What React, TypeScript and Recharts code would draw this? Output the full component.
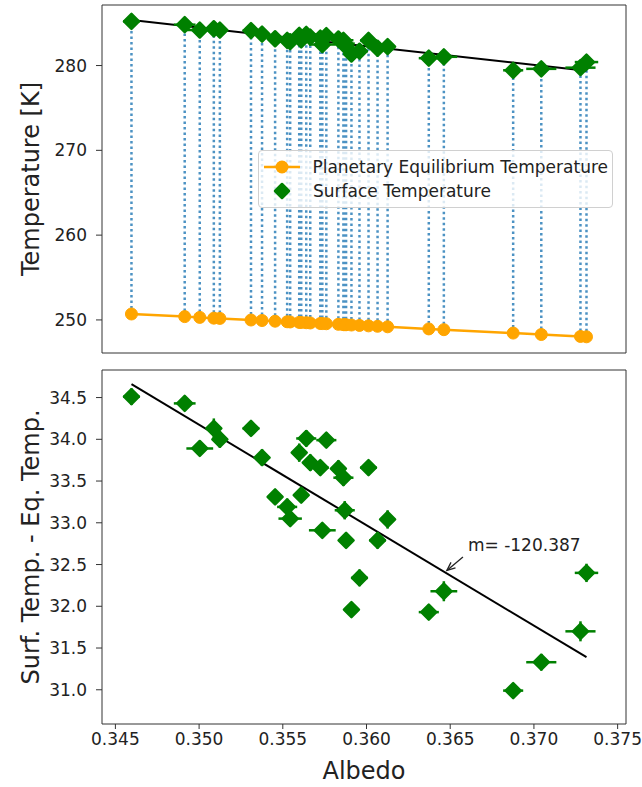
import React from "react";
import {
  ComposedChart,
  Line,
  Scatter,
  XAxis,
  YAxis,
  ErrorBar,
  ReferenceArea,
  ReferenceLine,
  Legend,
} from "recharts";

// planet albedo and temperatures (K)
const albedo = [
  0.34596, 0.34914, 0.35004, 0.35088, 0.35124, 0.3531, 0.35376, 0.35454, 0.35526, 0.35544, 0.35598,
  0.3561, 0.3564, 0.35664, 0.35724, 0.35736, 0.3576, 0.35832, 0.35862, 0.3587, 0.35878, 0.3591,
  0.35958, 0.36012, 0.36066, 0.36126, 0.36372, 0.36462, 0.36876, 0.37044, 0.37278, 0.37314,
];
const eqTemp = [
  250.7, 250.39, 250.3, 250.21, 250.18, 249.99, 249.93, 249.85, 249.78, 249.76, 249.71, 249.7,
  249.67, 249.64, 249.58, 249.57, 249.55, 249.48, 249.44, 249.44, 249.43, 249.4, 249.35, 249.3,
  249.25, 249.19, 248.94, 248.85, 248.45, 248.28, 248.05, 248.01,
];
const surfTemp = [
  285.21, 284.82, 284.19, 284.34, 284.18, 284.12, 283.71, 283.16, 282.97, 282.81, 283.55, 283.03,
  283.68, 283.36, 283.24, 282.48, 283.54, 283.13, 282.98, 282.59, 282.22, 281.36, 281.69, 282.96,
  282.04, 282.23, 280.87, 281.03, 279.44, 279.61, 279.75, 280.41,
];
const tempDiff = [
  34.51, 34.43, 33.89, 34.13, 34.0, 34.13, 33.78, 33.31, 33.19, 33.05, 33.84, 33.33, 34.01, 33.72,
  33.66, 32.91, 33.99, 33.65, 33.54, 33.15, 32.79, 31.96, 32.34, 33.66, 32.79, 33.04, 31.93, 32.18,
  30.99, 31.33, 31.7, 32.4,
];
const albedoErr = [
  0.0005, 0.00065, 0.0008, 0.0004, 0.0004, 0.0005, 0.0004, 0.0004, 0.0006, 0.0007, 0.0004, 0.0004,
  0.0006, 0.0004, 0.0005, 0.0008, 0.0006, 0.0004, 0.0006, 0.0006, 0.0004, 0.0004, 0.0005, 0.0005,
  0.0005, 0.0003, 0.0006, 0.0008, 0.0006, 0.0009, 0.0009, 0.0007,
];
const tempErr = [
  0.1, 0.08, 0.09, 0.12, 0.1, 0.09, 0.1, 0.08, 0.1, 0.09, 0.11, 0.09, 0.1, 0.1, 0.09, 0.08, 0.09,
  0.1, 0.1, 0.11, 0.09, 0.08, 0.1, 0.09, 0.1, 0.11, 0.09, 0.12, 0.08, 0.1, 0.12, 0.11,
];

// linear fits
const fitAlbedo = [0.34596, 0.37314];
const surfFit = [285.36, 279.4];
const diffFit = [34.66, 31.39];
const slopeText = "m= -120.387";
const slopeArrowAlbedo = [0.36576, 0.3648];
const slopeArrowDiff = [32.59, 32.43];

const albedoTicks = [0.345, 0.35, 0.355, 0.36, 0.365, 0.37, 0.375];
const tempTicks = [250, 260, 270, 280];
const diffTicks = [31.0, 31.5, 32.0, 32.5, 33.0, 33.5, 34.0, 34.5];

const FONT = "DejaVu Sans, sans-serif";
const TXT = "#222";
const AX = "#333";
const GREEN = "#008000";
const ORANGE = "#ffa500";
const BLUE = "#1f77b4";

const albedoDomain: [number, number] = [0.3442, 0.3755];
const tempDomain: [number, number] = [246.1, 287.14];
const diffDomain: [number, number] = [30.59, 34.83];

const eqPoints = albedo.map((x, i) => ({ x, y: eqTemp[i] }));
const surfPoints = albedo.map((x, i) => ({ x, y: surfTemp[i], xe: albedoErr[i], ye: tempErr[i] }));
const diffPoints = albedo.map((x, i) => ({ x, y: tempDiff[i], xe: albedoErr[i], ye: tempErr[i] }));
// vertical dotted links eq -> surface, broken by nulls
const linkPoints = albedo.flatMap((x, i) => [
  { x, y: eqTemp[i] },
  { x, y: surfTemp[i] },
  { x, y: null },
]);
const surfFitPoints = fitAlbedo.map((x, i) => ({ x, y: surfFit[i] }));
const diffFitPoints = fitAlbedo.map((x, i) => ({ x, y: diffFit[i] }));

const tickStyle = { fontSize: 17, fill: TXT, fontFamily: FONT };
const labelStyle = { fontSize: 24, fill: TXT, fontFamily: FONT, textAnchor: "middle" as const };

function Diamond({ cx, cy, s = 7.5 }: { cx: number; cy: number; s?: number }) {
  return (
    <path
      d={`M${cx},${cy - s} L${cx + s},${cy} L${cx},${cy + s} L${cx - s},${cy} Z`}
      fill={GREEN}
      stroke={GREEN}
      strokeWidth={2.5}
      strokeLinejoin="round"
    />
  );
}

const renderLegend = () => (
  <div
    style={{
      border: "1px solid #d0d0d0",
      borderRadius: 4,
      background: "rgba(255,255,255,0.8)",
      padding: "4px 4px 4px 3px",
      fontFamily: FONT,
      fontSize: 17,
      color: TXT,
      lineHeight: "24px",
      whiteSpace: "nowrap",
    }}
  >
    <div style={{ display: "flex", alignItems: "center" }}>
      <svg width={40} height={24} style={{ marginRight: 11 }}>
        <line x1={2} y1={12} x2={38} y2={12} stroke={ORANGE} strokeWidth={2.5} />
        <circle cx={20} cy={12} r={6.5} fill={ORANGE} />
      </svg>
      <span>Planetary Equilibrium Temperature</span>
    </div>
    <div style={{ display: "flex", alignItems: "center" }}>
      <svg width={40} height={24} style={{ marginRight: 11 }}>
        <Diamond cx={20} cy={12} s={7} />
      </svg>
      <span>Surface Temperature</span>
    </div>
  </div>
);

const SlopeArrow = (p: any) => {
  const { x1, y1, x2, y2 } = p;
  const ang = Math.atan2(y2 - y1, x2 - x1);
  const len = 9;
  const a1 = ang + Math.PI - 0.4;
  const a2 = ang + Math.PI + 0.4;
  return (
    <g>
      <line x1={x1} y1={y1} x2={x2} y2={y2} stroke="#222" strokeWidth={1.3} />
      <polyline
        points={`${x2 + len * Math.cos(a1)},${y2 + len * Math.sin(a1)} ${x2},${y2} ${x2 + len * Math.cos(a2)},${y2 + len * Math.sin(a2)}`}
        fill="none"
        stroke="#222"
        strokeWidth={1.3}
      />
      <text x={x1 + 5} y={y1 - 6} fontSize={17} fill={TXT} fontFamily={FONT}>
        {slopeText}
      </text>
    </g>
  );
};

export default function App() {
  return (
    <div style={{ position: "absolute", left: 0, top: 0, width: 642, height: 787, background: "#fff" }}>
      <div style={{ position: "absolute", left: 0, top: 0 }}>
        <ComposedChart width={642} height={365} margin={{ top: 5, right: 16, bottom: 0, left: 0 }}>
          <XAxis
            type="number"
            dataKey="x"
            domain={albedoDomain}
            allowDataOverflow
            ticks={albedoTicks}
            tick={false}
            tickSize={5}
            height={12}
            axisLine={false}
            tickLine={{ stroke: AX }}
          />
          <YAxis
            type="number"
            dataKey="y"
            domain={tempDomain}
            allowDataOverflow
            ticks={tempTicks}
            width={102}
            axisLine={false}
            tickSize={6}
            tickMargin={9}
            tickLine={{ stroke: AX }}
            tick={tickStyle}
            label={{ value: "Temperature [K]", angle: -90, position: "insideLeft", offset: 30, style: labelStyle }}
          />
          <Line
            data={linkPoints}
            dataKey="y"
            stroke={BLUE}
            strokeOpacity={0.8}
            strokeWidth={2.5}
            strokeDasharray="2.5 3"
            dot={false}
            activeDot={false}
            isAnimationActive={false}
            legendType="none"
          />
          <Line
            data={eqPoints}
            dataKey="y"
            name="Planetary Equilibrium Temperature"
            stroke={ORANGE}
            strokeWidth={2.5}
            dot={{ r: 6, fill: ORANGE, stroke: ORANGE, strokeWidth: 1 }}
            activeDot={false}
            isAnimationActive={false}
          />
          <Line
            data={surfFitPoints}
            dataKey="y"
            stroke="#000"
            strokeWidth={2}
            dot={false}
            activeDot={false}
            isAnimationActive={false}
            legendType="none"
          />
          <Scatter
            data={surfPoints}
            dataKey="y"
            name="Surface Temperature"
            fill={GREEN}
            shape={(p: any) => <Diamond cx={p.cx} cy={p.cy} />}
            isAnimationActive={false}
          >
            <ErrorBar dataKey="xe" direction="x" width={0} stroke={GREEN} strokeWidth={2.5} />
            <ErrorBar dataKey="ye" direction="y" width={0} stroke={GREEN} strokeWidth={2.5} />
          </Scatter>
          <ReferenceArea
            x1={albedoDomain[0]}
            x2={albedoDomain[1]}
            y1={tempDomain[0]}
            y2={tempDomain[1]}
            fill="none"
            stroke={AX}
            strokeWidth={1}
          />
          <Legend
            content={renderLegend}
            layout="vertical"
            align="center"
            verticalAlign="middle"
            wrapperStyle={{ left: 258, top: 150, width: 355 }}
          />
        </ComposedChart>
      </div>

      <div style={{ position: "absolute", left: 0, top: 360 }}>
        <ComposedChart width={642} height={427} margin={{ top: 10, right: 16, bottom: 0, left: 0 }}>
          <XAxis
            type="number"
            dataKey="x"
            domain={albedoDomain}
            allowDataOverflow
            ticks={albedoTicks}
            height={63}
            axisLine={false}
            tickSize={5}
            tickMargin={4}
            tickLine={{ stroke: AX }}
            tick={tickStyle}
            tickFormatter={(v: number) => v.toFixed(3)}
            label={{ value: "Albedo", position: "insideBottom", offset: 8, style: labelStyle }}
          />
          <YAxis
            type="number"
            dataKey="y"
            domain={diffDomain}
            allowDataOverflow
            ticks={diffTicks}
            width={102}
            axisLine={false}
            tickSize={6}
            tickMargin={9}
            tickLine={{ stroke: AX }}
            tick={tickStyle}
            tickFormatter={(v: number) => v.toFixed(1)}
            label={{
              value: "Surf. Temp. - Eq. Temp.",
              angle: -90,
              position: "insideLeft",
              offset: 30,
              style: labelStyle,
            }}
          />
          <Line
            data={diffFitPoints}
            dataKey="y"
            stroke="#000"
            strokeWidth={2}
            dot={false}
            activeDot={false}
            isAnimationActive={false}
          />
          <Scatter
            data={diffPoints}
            dataKey="y"
            fill={GREEN}
            shape={(p: any) => <Diamond cx={p.cx} cy={p.cy} />}
            isAnimationActive={false}
          >
            <ErrorBar dataKey="xe" direction="x" width={0} stroke={GREEN} strokeWidth={2.5} />
            <ErrorBar dataKey="ye" direction="y" width={0} stroke={GREEN} strokeWidth={2.5} />
          </Scatter>
          <ReferenceLine
            segment={[
              { x: slopeArrowAlbedo[0], y: slopeArrowDiff[0] },
              { x: slopeArrowAlbedo[1], y: slopeArrowDiff[1] },
            ]}
            shape={SlopeArrow}
          />
          <ReferenceArea
            x1={albedoDomain[0]}
            x2={albedoDomain[1]}
            y1={diffDomain[0]}
            y2={diffDomain[1]}
            fill="none"
            stroke={AX}
            strokeWidth={1}
          />
        </ComposedChart>
      </div>
    </div>
  );
}
